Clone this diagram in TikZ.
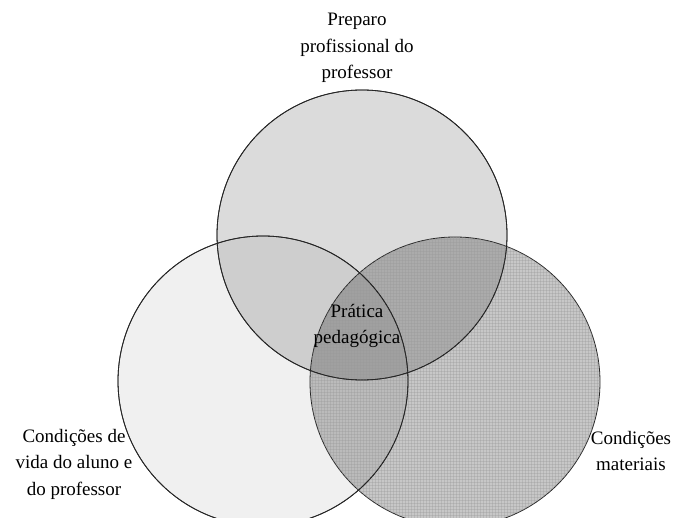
\documentclass[tikz,border=0pt]{standalone}
\usepackage{tikz}
\usetikzlibrary{patterns}
\usepackage{fontspec}
\setmainfont{Liberation Serif}

\begin{document}
\begin{tikzpicture}[x=1pt,y=-1pt,
	set/.style={circle,draw=black!85,line width=0.8pt,minimum size=290pt,inner sep=0pt},
	lbl/.style={align=center,font=\fontsize{19}{26.5}\selectfont}]
\useasboundingbox (0,0) rectangle (675,518);
% the three sets
\node [set, fill=black!6] (vida) at (263, 381) {};
\node [set, fill=black, fill opacity=0.14] (preparo) at (362, 235) {};
\node [set, fill=black, fill opacity=0.22] (materiais) at (455, 382) {};
\fill [pattern=grid, pattern color=black!40, opacity=0.35] (materiais) circle (145pt);
\draw [black!85, line width=0.8pt] (vida) circle (145pt);
\draw [black!85, line width=0.8pt] (preparo) circle (145pt);
% labels
\node [lbl] (Lpreparo) at (357, 48) {Preparo\\profissional do\\professor};
\node [lbl] (Lvida) at (74, 464) {Condições de\\vida do aluno e\\do professor};
\node [lbl] (Lmateriais) at (631, 451) {Condições\\materiais};
\node [lbl] (Lpratica) at (357, 326) {Prática\\pedagógica};
\end{tikzpicture}
\end{document}
